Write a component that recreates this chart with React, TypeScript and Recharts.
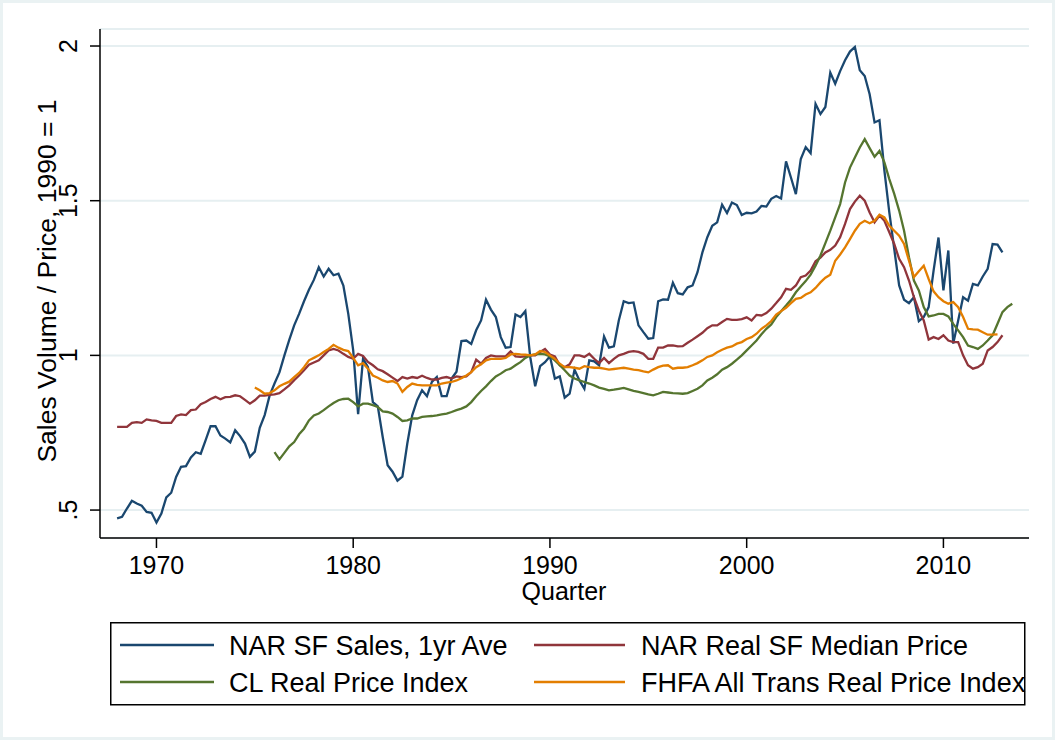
import React from "react";
import { LineChart, Line, XAxis, YAxis, CartesianGrid } from "recharts";

// quarterly values, first entry = Q1 of the start year
const salesStart = 1968;
const salesVolume = [
  0.473, 0.478, 0.505, 0.530,
  0.521, 0.514, 0.494, 0.491,
  0.460, 0.489, 0.541, 0.556,
  0.607, 0.640, 0.642, 0.670,
  0.687, 0.682, 0.726, 0.771,
  0.771, 0.741, 0.731, 0.719,
  0.758, 0.739, 0.715, 0.672,
  0.689, 0.766, 0.807, 0.870,
  0.909, 0.945, 0.999, 1.050,
  1.097, 1.134, 1.175, 1.212,
  1.244, 1.285, 1.255, 1.280,
  1.259, 1.264, 1.226, 1.134,
  1.016, 0.810, 0.989, 0.962,
  0.849, 0.835, 0.736, 0.645,
  0.624, 0.595, 0.608, 0.715,
  0.806, 0.855, 0.887, 0.868,
  0.914, 0.930, 0.868, 0.868,
  0.925, 0.947, 1.046, 1.048,
  1.037, 1.081, 1.113, 1.180,
  1.148, 1.124, 1.059, 1.025,
  1.027, 1.132, 1.124, 1.143,
  0.994, 0.900, 0.965, 0.978,
  0.997, 0.925, 0.932, 0.863,
  0.876, 0.954, 0.919, 0.892,
  0.984, 0.981, 0.968, 1.061,
  1.025, 1.029, 1.113, 1.175,
  1.169, 1.171, 1.097, 1.075,
  1.054, 1.056, 1.175, 1.181,
  1.180, 1.235, 1.201, 1.197,
  1.220, 1.226, 1.269, 1.333,
  1.382, 1.419, 1.430, 1.487,
  1.460, 1.494, 1.486, 1.454,
  1.461, 1.459, 1.465, 1.483,
  1.481, 1.506, 1.515, 1.507,
  1.627, 1.575, 1.521, 1.635,
  1.673, 1.654, 1.813, 1.780,
  1.803, 1.914, 1.878, 1.919,
  1.954, 1.982, 1.997, 1.922,
  1.903, 1.844, 1.753, 1.760,
  1.597, 1.462, 1.344, 1.226,
  1.180, 1.169, 1.188, 1.111,
  1.124, 1.156, 1.274, 1.381,
  1.210, 1.339, 1.038, 1.113,
  1.188, 1.177, 1.231, 1.226,
  1.255, 1.280, 1.360, 1.358,
  1.333,
];

const narPriceStart = 1968;
const narPrice = [
  0.769, 0.769, 0.769, 0.782,
  0.784, 0.782, 0.793, 0.790,
  0.788, 0.782, 0.782, 0.782,
  0.804, 0.809, 0.807, 0.823,
  0.825, 0.842, 0.849, 0.859,
  0.866, 0.858, 0.865, 0.866,
  0.871, 0.868, 0.856, 0.844,
  0.855, 0.870, 0.870, 0.872,
  0.874, 0.878, 0.890, 0.903,
  0.920, 0.935, 0.952, 0.970,
  0.977, 0.984, 1.000, 1.016,
  1.021, 1.016, 1.005, 0.995,
  0.989, 1.005, 0.998, 0.979,
  0.968, 0.955, 0.949, 0.939,
  0.928, 0.917, 0.930, 0.925,
  0.930, 0.927, 0.934, 0.927,
  0.922, 0.922, 0.927, 0.930,
  0.925, 0.932, 0.930, 0.932,
  0.946, 0.986, 0.973, 0.992,
  1.000, 0.997, 0.997, 0.997,
  1.013, 0.997, 0.995, 0.997,
  1.000, 1.000, 1.011, 1.021,
  1.003, 0.997, 0.968, 0.962,
  0.971, 1.000, 1.000, 0.995,
  1.005, 0.989, 0.975, 0.992,
  0.975, 0.989, 1.000, 1.005,
  1.011, 1.014, 1.011, 1.005,
  0.989, 0.989, 1.025, 1.025,
  1.032, 1.032, 1.029, 1.030,
  1.041, 1.051, 1.062, 1.073,
  1.088, 1.097, 1.097, 1.108,
  1.118, 1.115, 1.115, 1.117,
  1.123, 1.113, 1.131, 1.129,
  1.137, 1.151, 1.169, 1.188,
  1.215, 1.212, 1.226, 1.253,
  1.258, 1.274, 1.304, 1.316,
  1.333, 1.341, 1.355, 1.382,
  1.425, 1.473, 1.497, 1.516,
  1.500, 1.462, 1.430, 1.452,
  1.435, 1.398, 1.360, 1.312,
  1.285, 1.242, 1.188, 1.145,
  1.113, 1.051, 1.059, 1.053,
  1.065, 1.048, 1.043, 1.043,
  1.000, 0.968, 0.957, 0.962,
  0.973, 1.016, 1.027, 1.043,
  1.065,
];

const clStart = 1976;
const clIndex = [
  0.687, 0.664, 0.685, 0.706,
  0.720, 0.745, 0.763, 0.790,
  0.806, 0.812, 0.823, 0.835,
  0.846, 0.855, 0.859, 0.860,
  0.849, 0.835, 0.844, 0.844,
  0.839, 0.833, 0.819, 0.817,
  0.812, 0.801, 0.788, 0.790,
  0.796, 0.796, 0.801, 0.803,
  0.804, 0.806, 0.809, 0.812,
  0.817, 0.823, 0.828, 0.835,
  0.849, 0.868, 0.885, 0.900,
  0.917, 0.932, 0.941, 0.952,
  0.957, 0.968, 0.978, 0.992,
  1.000, 1.003, 1.005, 1.003,
  0.997, 0.984, 0.968, 0.952,
  0.935, 0.925, 0.919, 0.914,
  0.909, 0.903, 0.896, 0.892,
  0.887, 0.889, 0.892, 0.895,
  0.890, 0.885, 0.882, 0.878,
  0.874, 0.871, 0.876, 0.882,
  0.880, 0.878, 0.877, 0.876,
  0.878, 0.885, 0.892, 0.903,
  0.919, 0.928, 0.939, 0.954,
  0.962, 0.973, 0.986, 1.000,
  1.016, 1.032, 1.048, 1.068,
  1.086, 1.100, 1.124, 1.143,
  1.161, 1.180, 1.204, 1.223,
  1.240, 1.261, 1.290, 1.323,
  1.363, 1.403, 1.446, 1.489,
  1.559, 1.607, 1.640, 1.672,
  1.699, 1.670, 1.642, 1.661,
  1.624, 1.570, 1.522, 1.468,
  1.403, 1.317, 1.242, 1.210,
  1.156, 1.126, 1.129, 1.134,
  1.134, 1.126, 1.102, 1.081,
  1.059, 1.032, 1.027, 1.021,
  1.032, 1.048, 1.065, 1.102,
  1.140, 1.156, 1.167,
];

const fhfaStart = 1975;
const fhfaIndex = [
  0.896, 0.887, 0.876, 0.878,
  0.887, 0.900, 0.908, 0.915,
  0.930, 0.943, 0.962, 0.984,
  0.992, 1.000, 1.011, 1.021,
  1.034, 1.025, 1.018, 1.014,
  0.992, 0.968, 0.975, 0.957,
  0.935, 0.928, 0.919, 0.914,
  0.917, 0.909, 0.882, 0.898,
  0.909, 0.905, 0.903, 0.903,
  0.903, 0.903, 0.909, 0.912,
  0.914, 0.919, 0.926, 0.935,
  0.946, 0.962, 0.971, 0.984,
  0.989, 0.989, 0.989, 0.992,
  1.003, 1.005, 1.003, 1.002,
  1.000, 1.003, 1.014, 1.011,
  1.000, 0.989, 0.973, 0.962,
  0.962, 0.960, 0.957, 0.965,
  0.962, 0.960, 0.960, 0.957,
  0.954, 0.956, 0.958, 0.960,
  0.957, 0.954, 0.952, 0.948,
  0.945, 0.954, 0.962, 0.967,
  0.968, 0.957, 0.960, 0.960,
  0.962, 0.968, 0.975, 0.984,
  0.995, 1.000, 1.010, 1.018,
  1.025, 1.029, 1.038, 1.043,
  1.053, 1.059, 1.070, 1.086,
  1.097, 1.111, 1.132, 1.143,
  1.154, 1.169, 1.183, 1.186,
  1.197, 1.204, 1.218, 1.236,
  1.251, 1.261, 1.306, 1.326,
  1.349, 1.376, 1.403, 1.425,
  1.435, 1.427, 1.435, 1.455,
  1.446, 1.419, 1.403, 1.387,
  1.360, 1.306, 1.253, 1.272,
  1.290, 1.247, 1.207, 1.188,
  1.175, 1.167, 1.172, 1.156,
  1.124, 1.086, 1.084, 1.083,
  1.075, 1.067, 1.067, 1.068,
];

const xTicks = [1970, 1980, 1990, 2000, 2010];
const yTicks = [0.5, 1, 1.5, 2];
const yTickLabels = [".5", "1", "1.5", "2"];

const FONT = "'Liberation Sans', Arial, Helvetica, sans-serif";

const toPoints = (start: number, values: number[]) =>
  values.map((v, i) => ({ year: start + i / 4, value: v }));

const series = [
  { name: "NAR SF Sales, 1yr Ave", color: "#1a476f", data: toPoints(salesStart, salesVolume) },
  { name: "NAR Real SF Median Price", color: "#90353b", data: toPoints(narPriceStart, narPrice) },
  { name: "CL Real Price Index", color: "#55752f", data: toPoints(clStart, clIndex) },
  { name: "FHFA All Trans Real Price Index", color: "#e37e00", data: toPoints(fhfaStart, fhfaIndex) },
];

const YTick = (props: any) => {
  const { y, payload } = props;
  const i = yTicks.indexOf(payload.value);
  const bx = 77;
  return (
    <text
      x={bx}
      y={y}
      transform={`rotate(-90, ${bx}, ${y})`}
      textAnchor="middle"
      fontSize={25}
      fontFamily={FONT}
      fill="#000"
    >
      {yTickLabels[i] ?? payload.value}
    </text>
  );
};

const YTitle = () => (
  <text
    x={56}
    y={281}
    transform="rotate(-90, 56, 281)"
    textAnchor="middle"
    fontSize={26.5}
    fontFamily={FONT}
    fill="#000"
  >
    Sales Volume / Price, 1990 = 1
  </text>
);

const XTitle = () => (
  <text x={564} y={600} textAnchor="middle" fontSize={25} fontFamily={FONT} fill="#000">
    Quarter
  </text>
);

const LegendBox = () => {
  const rows = [23, 60];
  const cols = [
    { x1: 10, x2: 104, tx: 119 },
    { x1: 424, x2: 515, tx: 531 },
  ];
  return (
    <svg width={916} height={84} style={{ position: "absolute", left: 110, top: 622 }}>
      <rect x={0.75} y={0.75} width={914} height={82} fill="#fff" stroke="#000" strokeWidth={1.5} />
      {series.map((s, i) => {
        const r = rows[Math.floor(i / 2)];
        const c = cols[i % 2];
        return (
          <g key={s.name}>
            <line x1={c.x1} x2={c.x2} y1={r} y2={r} stroke={s.color} strokeWidth={2.6} />
            <text x={c.tx} y={r + 9.5} fontSize={27} fontFamily={FONT} fill="#000">
              {s.name}
            </text>
          </g>
        );
      })}
    </svg>
  );
};

export default function App() {
  return (
    <div
      style={{
        position: "absolute",
        left: 0,
        top: 0,
        width: 1055,
        height: 740,
        background: "#fff",
        boxShadow: "inset 0 0 0 3px #eaf2f3",
      }}
    >
      <LineChart
        width={1055}
        height={740}
        margin={{ top: 29, right: 26, left: 0, bottom: 140 }}
      >
        <CartesianGrid horizontal vertical={false} stroke="#e6eff1" strokeWidth={2} />
        <XAxis
          type="number"
          dataKey="year"
          domain={[1967.13, 2014.35]}
          allowDataOverflow
          ticks={xTicks}
          height={62}
          tickSize={10}
          tickMargin={8}
          axisLine={{ stroke: "#000", strokeWidth: 1.5 }}
          tickLine={{ stroke: "#000", strokeWidth: 1.5 }}
          tick={{ fontSize: 25, fill: "#000", fontFamily: FONT }}
          label={<XTitle />}
        />
        <YAxis
          type="number"
          dataKey="value"
          domain={[0.4097, 2.055]}
          allowDataOverflow
          ticks={yTicks}
          width={100}
          tickSize={10}
          axisLine={{ stroke: "#000", strokeWidth: 1.5 }}
          tickLine={{ stroke: "#000", strokeWidth: 1.5 }}
          tick={<YTick />}
          label={<YTitle />}
        />
        {series.map((s) => (
          <Line
            key={s.name}
            data={s.data}
            dataKey="value"
            name={s.name}
            type="linear"
            stroke={s.color}
            strokeWidth={2.3}
            dot={false}
            activeDot={false}
            isAnimationActive={false}
          />
        ))}
      </LineChart>
      <LegendBox />
    </div>
  );
}
